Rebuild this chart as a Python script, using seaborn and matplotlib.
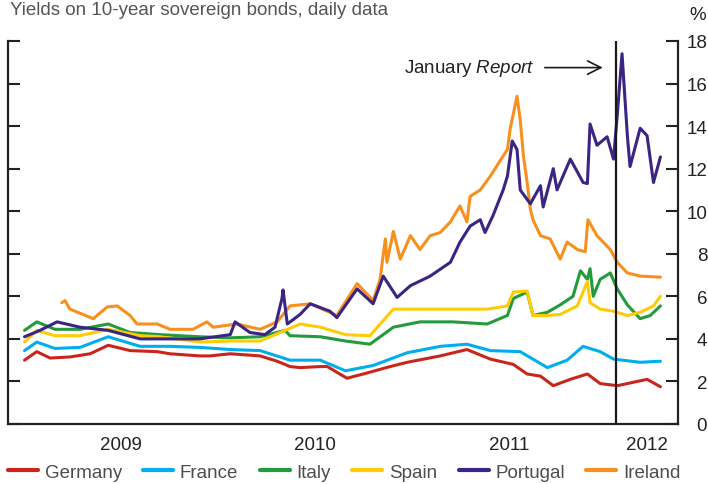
import pandas as pd
import matplotlib.pyplot as plt
import matplotlib.dates as mdates
from matplotlib.lines import Line2D
import seaborn as sns

# Yields on 10-year sovereign bonds (per cent)
germany_dates = ['2009-01-02', '2009-01-25', '2009-02-19', '2009-03-28', '2009-05-05', '2009-06-08',
                 '2009-07-19', '2009-09-08', '2009-10-02', '2009-11-27', '2009-12-16', '2010-01-23',
                 '2010-03-20', '2010-04-21', '2010-05-15', '2010-06-03', '2010-07-11', '2010-07-24',
                 '2010-08-30', '2010-10-07', '2010-11-19', '2010-12-21', '2011-02-21', '2011-04-12',
                 '2011-05-26', '2011-07-08', '2011-08-03', '2011-08-28', '2011-09-21', '2011-10-23',
                 '2011-11-24', '2011-12-18', '2012-01-19', '2012-02-07', '2012-03-15', '2012-04-09']
germany = [3.0, 3.4, 3.1, 3.15, 3.3, 3.7,
           3.45, 3.4, 3.3, 3.2, 3.2, 3.3,
           3.2, 2.95, 2.7, 2.65, 2.7, 2.7,
           2.15, 2.4, 2.7, 2.9, 3.2, 3.5,
           3.05, 2.8, 2.35, 2.25, 1.8, 2.1,
           2.35, 1.9, 1.8, 1.9, 2.1, 1.75]

france_dates = ['2009-01-02', '2009-01-25', '2009-02-28', '2009-04-16', '2009-06-08', '2009-08-07',
                '2009-10-02', '2009-11-27', '2010-01-23', '2010-03-20', '2010-05-15', '2010-07-11',
                '2010-08-27', '2010-10-18', '2010-12-21', '2011-02-21', '2011-04-12', '2011-05-26',
                '2011-07-21', '2011-09-10', '2011-10-17', '2011-11-16', '2011-12-18', '2012-01-12',
                '2012-03-02', '2012-04-09']
france = [3.45, 3.85, 3.55, 3.6, 4.1, 3.65,
          3.65, 3.6, 3.5, 3.45, 3.0, 3.0,
          2.5, 2.75, 3.35, 3.65, 3.75, 3.45,
          3.4, 2.65, 3.0, 3.65, 3.4, 3.05,
          2.9, 2.95]

italy_dates = ['2009-01-02', '2009-01-25', '2009-02-28', '2009-04-16', '2009-06-08', '2009-07-19',
               '2009-09-13', '2009-11-27', '2010-01-23', '2010-03-20', '2010-05-06', '2010-05-15',
               '2010-07-11', '2010-08-27', '2010-10-12', '2010-11-25', '2011-01-14', '2011-03-17',
               '2011-05-20', '2011-06-27', '2011-07-08', '2011-08-03', '2011-08-14', '2011-09-10',
               '2011-10-04', '2011-10-28', '2011-11-11', '2011-11-24', '2011-11-29', '2011-12-05',
               '2011-12-18', '2012-01-06', '2012-01-19', '2012-02-07', '2012-03-02', '2012-03-21',
               '2012-04-09']
italy = [4.4, 4.8, 4.45, 4.45, 4.7, 4.3,
         4.2, 4.1, 4.05, 4.1, 4.4, 4.15,
         4.1, 3.9, 3.75, 4.55, 4.8, 4.8,
         4.7, 5.1, 5.9, 6.2, 5.1, 5.25,
         5.6, 6.0, 7.2, 6.8, 7.3, 6.0,
         6.8, 7.1, 6.35, 5.6, 4.95, 5.1,
         5.55]

spain_dates = ['2009-01-02', '2009-01-25', '2009-02-28', '2009-04-16', '2009-06-08', '2009-08-07',
               '2009-09-13', '2009-11-27', '2010-01-23', '2010-03-20', '2010-05-06', '2010-06-03',
               '2010-07-11', '2010-08-27', '2010-10-12', '2010-11-25', '2011-01-14', '2011-03-17',
               '2011-05-20', '2011-06-27', '2011-07-08', '2011-08-03', '2011-08-14', '2011-09-10',
               '2011-10-04', '2011-11-05', '2011-11-24', '2011-11-29', '2011-12-18', '2012-01-12',
               '2012-02-07', '2012-03-02', '2012-03-27', '2012-04-09']
spain = [3.85, 4.4, 4.15, 4.15, 4.45, 4.15,
         4.1, 3.85, 3.9, 3.9, 4.4, 4.7,
         4.55, 4.2, 4.15, 5.4, 5.4, 5.4,
         5.4, 5.55, 6.2, 6.25, 5.1, 5.1,
         5.15, 5.55, 6.7, 5.7, 5.4, 5.3,
         5.1, 5.25, 5.55, 6.0]

portugal_dates = ['2009-01-02', '2009-01-31', '2009-03-04', '2009-04-16', '2009-06-08', '2009-08-07',
                  '2009-09-13', '2009-11-27', '2010-01-23', '2010-02-01', '2010-03-01', '2010-03-29',
                  '2010-04-17', '2010-04-30', '2010-05-02', '2010-05-10', '2010-06-03', '2010-06-22',
                  '2010-07-29', '2010-08-11', '2010-09-18', '2010-10-18', '2010-11-06', '2010-12-02',
                  '2010-12-27', '2011-02-02', '2011-03-12', '2011-03-30', '2011-04-18', '2011-05-07',
                  '2011-05-16', '2011-05-31', '2011-06-19', '2011-06-27', '2011-07-06', '2011-07-15',
                  '2011-07-21', '2011-08-09', '2011-08-28', '2011-09-02', '2011-09-21', '2011-09-28',
                  '2011-10-23', '2011-11-16', '2011-11-24', '2011-11-29', '2011-12-12', '2011-12-31',
                  '2012-01-12', '2012-01-19', '2012-01-28', '2012-02-07', '2012-02-12', '2012-03-02',
                  '2012-03-15', '2012-03-27', '2012-04-09']
portugal = [4.1, 4.4, 4.8, 4.55, 4.4, 4.0,
            4.0, 4.0, 4.2, 4.8, 4.3, 4.2,
            4.55, 5.9, 6.3, 4.7, 5.15, 5.65,
            5.3, 5.0, 6.35, 5.65, 6.95, 5.95,
            6.5, 6.95, 7.6, 8.55, 9.3, 9.6,
            9.0, 9.8, 11.0, 11.65, 13.3, 12.9,
            11.0, 10.35, 11.2, 10.2, 12.0, 11.0,
            12.45, 11.35, 11.3, 14.1, 13.1, 13.5,
            12.45, 14.5, 17.4, 13.55, 12.1, 13.9,
            13.55, 11.35, 12.55]

ireland_dates = ['2009-03-13', '2009-03-19', '2009-03-28', '2009-05-11', '2009-06-06', '2009-06-25',
                 '2009-07-19', '2009-08-01', '2009-09-08', '2009-10-02', '2009-11-14', '2009-12-10',
                 '2009-12-22', '2010-02-05', '2010-03-20', '2010-04-21', '2010-05-15', '2010-06-22',
                 '2010-08-11', '2010-09-18', '2010-10-18', '2010-10-31', '2010-11-10', '2010-11-13',
                 '2010-11-25', '2010-12-08', '2010-12-27', '2011-01-14', '2011-02-02', '2011-02-21',
                 '2011-03-12', '2011-03-30', '2011-04-12', '2011-04-18', '2011-05-07', '2011-05-26',
                 '2011-06-19', '2011-06-27', '2011-07-02', '2011-07-15', '2011-07-21', '2011-07-27',
                 '2011-08-03', '2011-08-09', '2011-08-14', '2011-08-28', '2011-09-15', '2011-10-04',
                 '2011-10-17', '2011-11-05', '2011-11-20', '2011-11-25', '2011-12-12', '2012-01-06',
                 '2012-01-19', '2012-02-07', '2012-03-02', '2012-04-09']
ireland = [5.7, 5.8, 5.4, 4.95, 5.5, 5.55,
           5.1, 4.7, 4.7, 4.45, 4.45, 4.8,
           4.55, 4.7, 4.45, 4.8, 5.55, 5.65,
           5.1, 6.6, 5.8, 6.8, 8.7, 7.6,
           9.05, 7.75, 8.85, 8.2, 8.85, 9.0,
           9.5, 10.25, 9.5, 10.7, 11.0, 11.65,
           12.6, 12.9, 13.85, 15.4, 14.3, 12.6,
           11.35, 10.1, 9.6, 8.85, 8.7, 7.75,
           8.55, 8.2, 8.1, 9.6, 8.85, 8.2,
           7.6, 7.1, 6.95, 6.9]

countries = ['Germany', 'France', 'Italy', 'Spain', 'Portugal', 'Ireland']
colors = {'Germany': '#c9251d', 'France': '#00adee', 'Italy': '#239a3b',
          'Spain': '#ffcb05', 'Portugal': '#3b2483', 'Ireland': '#f7901e'}
draw_order = ['Germany', 'France', 'Italy', 'Spain', 'Ireland', 'Portugal']

report_date = pd.Timestamp('2012-01-17')
year_labels = ['2009', '2010', '2011', '2012']
year_label_dates = ['2009-07-01', '2010-07-01', '2011-07-01', '2012-03-15']

series = {'Germany': (germany_dates, germany), 'France': (france_dates, france),
          'Italy': (italy_dates, italy), 'Spain': (spain_dates, spain),
          'Portugal': (portugal_dates, portugal), 'Ireland': (ireland_dates, ireland)}
frames = []
for name, (d, v) in series.items():
    frames.append(pd.DataFrame({'date': pd.to_datetime(d), 'yield': v, 'country': name}))
df = pd.concat(frames, ignore_index=True)

sns.set_style('white')
plt.rcParams['font.family'] = ['Liberation Sans', 'DejaVu Sans']
plt.rcParams['mathtext.fontset'] = 'custom'
plt.rcParams['mathtext.rm'] = 'Liberation Sans'
plt.rcParams['mathtext.it'] = 'Liberation Sans:italic'

fig = plt.figure(figsize=(7.08, 4.85), dpi=100)
ax = fig.add_axes([8 / 708, 1 - 425 / 485, 670 / 708, 383 / 485])

sns.lineplot(data=df, x='date', y='yield', hue='country', hue_order=draw_order,
             palette=colors, linewidth=2.2, estimator=None, legend=False, ax=ax)

ax.axvline(report_date, color='#1a1a1a', lw=1.6, zorder=5)
ax.annotate('', xy=(report_date - pd.Timedelta(days=20), 16.75),
            xytext=(report_date - pd.Timedelta(days=139), 16.75),
            arrowprops=dict(arrowstyle='->', color='#1a1a1a', lw=1.2, mutation_scale=24))
ax.text(report_date - pd.Timedelta(days=152), 16.75, 'January $\\mathit{Report}$',
        ha='right', va='center', fontsize=13.5, color='#222222')

ax.set_xlim(pd.Timestamp('2008-12-02'), pd.Timestamp('2012-05-12'))
ax.set_ylim(0, 18)
ax.set_yticks(range(0, 19, 2))
ax.set_xlabel('')
ax.set_ylabel('')

ax.xaxis.set_major_locator(mdates.YearLocator())
ax.xaxis.set_major_formatter(plt.NullFormatter())
ax.set_xticks(pd.to_datetime(year_label_dates), minor=True)
ax.set_xticklabels(year_labels, minor=True)
ax.tick_params(axis='x', which='major', direction='in', length=8.5, width=1.5, color='#222222')
ax.tick_params(axis='x', which='minor', length=0, pad=9, labelsize=13.5, labelcolor='#222222')
ax.tick_params(axis='y', direction='in', left=True, right=True, labelleft=False, labelright=True,
               length=8.5, width=1.5, color='#222222', labelsize=13.5, labelcolor='#222222', pad=21)
for lab in ax.get_yticklabels():
    lab.set_horizontalalignment('right')

for side in ['left', 'right', 'bottom']:
    ax.spines[side].set_visible(True)
    ax.spines[side].set_linewidth(1.6)
    ax.spines[side].set_color('#222222')
ax.spines['top'].set_visible(False)

fig.text(10 / 708, 1 - 15 / 485, 'Yields on 10-year sovereign bonds, daily data',
         ha='left', va='baseline', fontsize=13.5, color='#555555')
fig.text(706 / 708, 1 - 15 / 485, '%', ha='right', va='center', fontsize=13.5, color='#222222')

handles = [Line2D([0], [0], color=colors[c], lw=3) for c in countries]
leg = fig.legend(handles, countries, loc='center left', bbox_to_anchor=(8 / 708, 1 - 473 / 485),
                 ncol=6, frameon=False, fontsize=13.5, handlelength=1.6, handletextpad=0.35,
                 columnspacing=1.15, borderaxespad=0, borderpad=0)
for t in leg.get_texts():
    t.set_color('#4d4d4d')

fig.savefig('out.png', dpi=100)
